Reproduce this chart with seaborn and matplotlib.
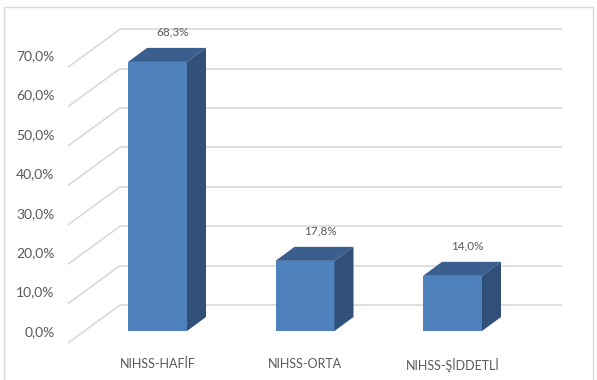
import numpy as np
import pandas as pd
import seaborn as sns
import matplotlib.pyplot as plt
from matplotlib.patches import Polygon, Rectangle
from matplotlib.transforms import ScaledTranslation

# Veriler
kategoriler = ["NIHSS-HAFİF", "NIHSS-ORTA", "NIHSS-ŞİDDETLİ"]
yuzdeler = [68.3, 17.8, 14.0]
deger_etiketleri = ["68,3%", "17,8%", "14,0%"]
y_degerleri = [0, 10, 20, 30, 40, 50, 60, 70]
y_etiketleri = ["0,0%", "10,0%", "20,0%", "30,0%", "40,0%", "50,0%", "60,0%", "70,0%"]

# Renkler
on_renk = "#4F81BD"
ust_renk = "#3A5F8E"
yan_renk = "#30507A"
yazi_renk = "#595959"
izgara_renk = "#D9D9D9"

sns.set_theme(style="white")
plt.rcParams["font.family"] = ["Lato", "DejaVu Sans"]

W, H = 597, 380
fig = plt.figure(figsize=(W / 100, H / 100), dpi=100)
# eksen: piksel 60..570 (x), 20..350 (y, ustten)
ax = fig.add_axes([60 / W, 1 - 350 / H, 510 / W, 330 / H])

df = pd.DataFrame({"kategori": kategoriler, "yuzde": yuzdeler})
sns.barplot(data=df, x="kategori", y="yuzde", color=on_renk, saturation=1,
            width=0.4, linewidth=0, ax=ax, zorder=3)

# piksel -> veri olcegi
px_x = 147.5          # kategori araligi (piksel)
px_y = 3.94           # %1 basina piksel
ax.set_xlim((60 - 157.5) / px_x, (570 - 157.5) / px_x)
ax.set_ylim((331 - 350) / px_y, (331 - 20) / px_y)

# 3B derinlik
DX, DY = 19 / px_x, 14 / px_y            # cubuk derinligi
on_kay = -12 / px_y                      # etiket duzlemi (on)
duvar_dx, duvar_dy = 52 / px_x, 38 / px_y
x_on = (68 - 157.5) / px_x
x_sag = (562 - 157.5) / px_x

for v in y_degerleri:
    y0 = v + on_kay
    ax.plot([x_on, x_on + duvar_dx], [y0, y0 + duvar_dy], color=izgara_renk,
            lw=1.2, zorder=1, solid_capstyle="butt")
    ax.plot([x_on + duvar_dx, x_sag], [y0 + duvar_dy, y0 + duvar_dy],
            color=izgara_renk, lw=1.2, zorder=1, solid_capstyle="butt")

for bar, etiket in zip(ax.patches, deger_etiketleri):
    x0 = bar.get_x()
    x1 = x0 + bar.get_width()
    h = bar.get_height()
    ust = Polygon([(x0, h), (x1, h), (x1 + DX, h + DY), (x0 + DX, h + DY)],
                  closed=True, facecolor=ust_renk, edgecolor="none", zorder=3)
    yan = Polygon([(x1, 0), (x1, h), (x1 + DX, h + DY), (x1 + DX, DY)],
                  closed=True, facecolor=yan_renk, edgecolor="none", zorder=3)
    ax.add_patch(ust)
    ax.add_patch(yan)
    ax.text((x0 + x1) / 2 + DX * 0.8, h + DY + 16 / px_y, etiket,
            ha="center", va="center", fontsize=8.5, color=yazi_renk)

# eksen etiketleri
ax.set_yticks(y_degerleri)
ax.set_yticklabels(y_etiketleri)
kaydir = ScaledTranslation(0, -0.12, fig.dpi_scale_trans)
for t in ax.get_yticklabels():
    t.set_transform(t.get_transform() + kaydir)
ax.tick_params(axis="y", length=0, pad=4, labelsize=10, labelcolor=yazi_renk)
ax.tick_params(axis="x", length=0, pad=5.5, labelsize=9, labelcolor=yazi_renk)
ax.set_xlabel("")
ax.set_ylabel("")
ax.grid(False)
for s in ax.spines.values():
    s.set_visible(False)
ax.patch.set_alpha(0)

# grafik cercevesi
fig.patches.append(Rectangle((3.5 / W, -0.05), 589 / W, 1.05 - 6.5 / H,
                             transform=fig.transFigure, fill=False,
                             edgecolor="#D9D9D9", lw=1))

fig.savefig("out.png", dpi=100)
